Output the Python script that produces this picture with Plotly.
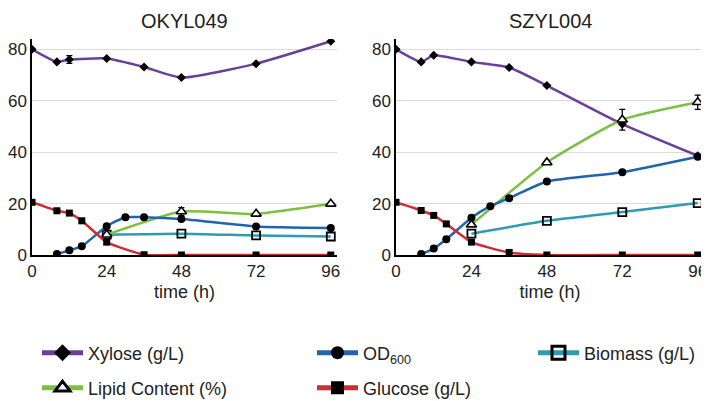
import plotly.graph_objects as go

# time points (h)
t_full = [0, 8, 12, 24, 36, 48, 72, 96]
t_glc = [0, 8, 12, 16, 24, 36, 48, 72, 96]
t_od = [8, 12, 16, 24, 30, 36, 48, 72, 96]
t_late = [24, 48, 72, 96]

# OKYL049
okyl_xylose = [80.0, 75.1, 76.0, 76.4, 73.1, 69.0, 74.4, 83.1]
okyl_xylose_err = [0, 0, 1.5, 0, 0, 0, 0, 0]
okyl_glucose = [20.5, 17.2, 16.3, 13.3, 5.0, 0.1, 0, 0, 0]
okyl_od = [0.4, 1.8, 3.4, 11.2, 14.7, 14.7, 14.0, 11.1, 10.5]
okyl_lipid = [7.9, 16.9, 16.0, 19.9]
okyl_lipid_err = [0, 1.5, 0, 0]
okyl_biomass = [7.9, 8.3, 7.6, 7.2]

# SZYL004
szyl_xylose = [80.0, 75.1, 77.7, 75.1, 72.9, 65.9, 50.9, 38.6]
szyl_xylose_err = [0, 0, 0, 0, 0, 0, 0, 0]
szyl_glucose = [20.5, 17.3, 15.4, 12.1, 5.0, 1.0, 0, 0, 0]
szyl_od = [0.4, 2.5, 6.1, 14.5, 19.0, 22.1, 28.6, 32.2, 38.2]
szyl_lipid = [11.8, 36.0, 52.6, 59.4]
szyl_lipid_err = [0, 0, 4.0, 2.8]
szyl_biomass = [8.3, 13.3, 16.7, 20.2]

titles = ["OKYL049", "SZYL004"]
tick_vals = [0, 24, 48, 72, 96]

PURPLE = "#6b3f98"
GREEN = "#7cc043"
BLUE = "#1f64ad"
RED = "#cc2e35"
TEAL = "#2f9ab4"
FONT = "Liberation Sans, Arial, sans-serif"

# page body has an 8px margin, so the figure is 8px smaller than the window
W, H = 701, 393
TOP = 31

fig = go.Figure()


def add_series(xa, ya, x, y, color, symbol, size, fill="black", err=None, lw_marker=0):
    marker = dict(symbol=symbol, size=size, color=fill,
                  line=dict(color="black", width=lw_marker))
    tr = go.Scatter(x=x, y=y, mode="lines+markers", xaxis=xa, yaxis=ya,
                    line=dict(color=color, width=2.5, shape="spline", smoothing=0.5),
                    marker=marker, showlegend=False, hoverinfo="skip")
    if err is not None:
        tr.error_y = dict(type="data", array=err, color="black", thickness=1.3, width=3)
    fig.add_trace(tr)


panels = [
    ("x", "y", okyl_xylose, okyl_xylose_err, okyl_glucose, okyl_od, okyl_lipid, okyl_lipid_err, okyl_biomass),
    ("x2", "y2", szyl_xylose, szyl_xylose_err, szyl_glucose, szyl_od, szyl_lipid, szyl_lipid_err, szyl_biomass),
]

for xa, ya, xyl, xyl_err, glc, od, lip, lip_err, bio in panels:
    add_series(xa, ya, t_full, xyl, PURPLE, "diamond", 7, err=xyl_err)
    add_series(xa, ya, t_late, bio, TEAL, "square-open", 8, fill="black", lw_marker=1.8)
    add_series(xa, ya, t_late, lip, GREEN, "triangle-up", 9, fill="white", err=lip_err, lw_marker=1.6)
    add_series(xa, ya, t_od, od, BLUE, "circle", 8)
    add_series(xa, ya, t_glc, glc, RED, "square", 7)

# legend-only entries (positions in figure pixels)
legend_items = [
    ("Xylose (g/L)", PURPLE, "diamond", "black", 0, "legend", 29, 345),
    ("OD<sub>600</sub>", BLUE, "circle", "black", 0, "legend2", 304, 345),
    ("Biomass (g/L)", TEAL, "square-open", "black", 3, "legend3", 525, 345),
    ("Lipid Content (%)", GREEN, "triangle-up", "white", 3, "legend4", 29, 380),
    ("Glucose (g/L)", RED, "square", "black", 0, "legend5", 304, 380),
]

layout_legends = {}
for name, color, symbol, fill, lw, lg, px_x, px_y in legend_items:
    fig.add_trace(go.Scatter(
        x=[None], y=[None], mode="lines+markers", name=name, legend=lg,
        line=dict(color=color, width=5),
        marker=dict(symbol=symbol, size=13, color=fill, line=dict(color="black", width=lw)),
    ))
    layout_legends[lg] = dict(
        x=px_x / W, y=1 - px_y / H, xref="container", yref="container",
        xanchor="left", yanchor="middle", bgcolor="rgba(0,0,0,0)",
        font=dict(size=18, color="#222", family=FONT), itemwidth=41,
    )

axis_common = dict(
    showline=True, linecolor="black", linewidth=1.5, showgrid=False,
    zeroline=False, ticks="", tickfont=dict(size=17, color="#222"), automargin=False,
    ticklabeloverflow="allow",
)
y_common = {k: v for k, v in axis_common.items() if k != "showgrid"}

fig.update_layout(
    width=W, height=H,
    margin=dict(l=24, r=5, t=TOP, b=H - 247, autoexpand=False),
    paper_bgcolor="white", plot_bgcolor="white",
    font=dict(family=FONT, color="#222"),
    xaxis=dict(domain=[0, 0.4539], range=[0, 98], tickvals=tick_vals,
               title=dict(text="time (h)", font=dict(size=18), standoff=5), **axis_common),
    xaxis2=dict(domain=[0.5417, 1], range=[0, 98], tickvals=tick_vals,
                title=dict(text="time (h)", font=dict(size=18), standoff=5), **axis_common),
    yaxis=dict(range=[0, 84], tickvals=[0, 20, 40, 60, 80], showgrid=True,
               gridcolor="#dcdcdc", gridwidth=1, anchor="x", **y_common),
    yaxis2=dict(range=[0, 84], tickvals=[0, 20, 40, 60, 80], showgrid=True,
                gridcolor="#dcdcdc", gridwidth=1, anchor="x2", **y_common),
    **layout_legends,
)

for i, title in enumerate(titles):
    fig.add_annotation(
        text=title, xref="x domain" if i == 0 else "x2 domain", yref="paper",
        x=0.5, y=1, yshift=TOP, showarrow=False, yanchor="top",
        font=dict(size=20, color="#222"),
    )

fig.write_html("out.html")
